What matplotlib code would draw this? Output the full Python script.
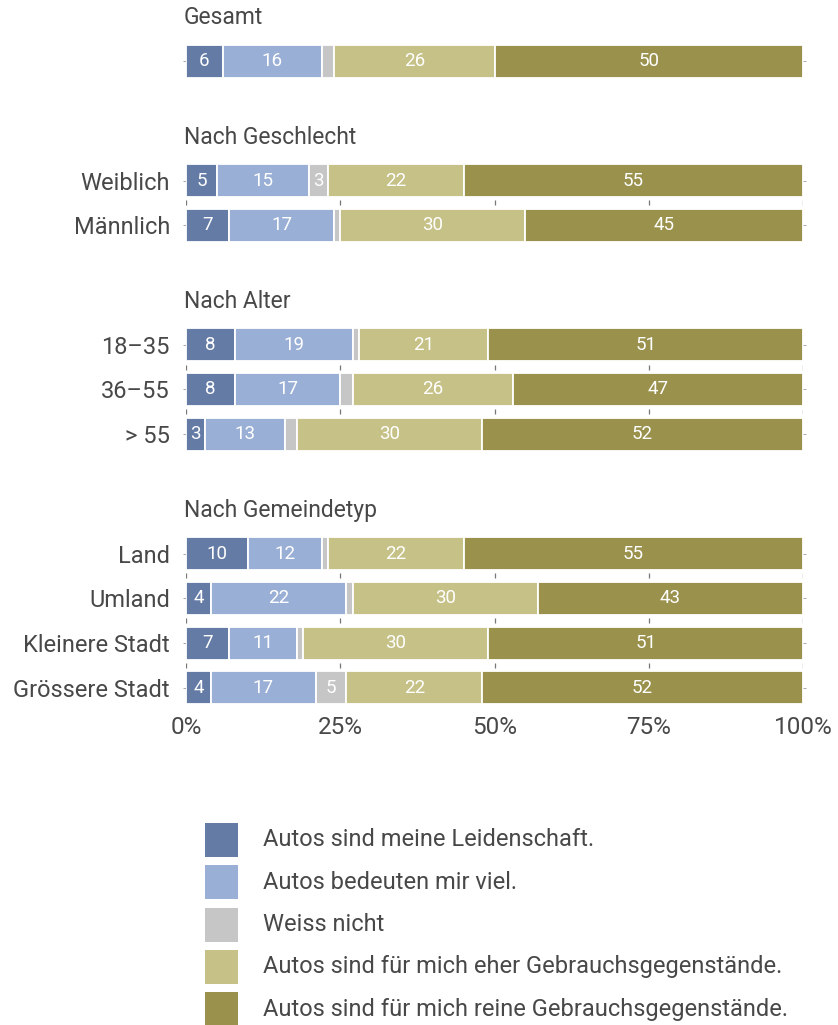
import matplotlib
matplotlib.use("Agg")
import matplotlib.pyplot as plt
from matplotlib.patches import Rectangle

plt.rcParams["font.family"] = ["Roboto", "DejaVu Sans"]

# survey answers in percent, one row per subgroup
groups = ["Gesamt", "Nach Geschlecht", "Nach Alter", "Nach Gemeindetyp"]
rows = [
    [""],
    ["Weiblich", "Männlich"],
    ["18–35", "36–55", "> 55"],
    ["Land", "Umland", "Kleinere Stadt", "Grössere Stadt"],
]
leidenschaft = [6, 5, 7, 8, 8, 3, 10, 4, 7, 4]
bedeuten_viel = [16, 15, 17, 19, 17, 13, 12, 22, 11, 17]
weiss_nicht = [2, 3, 1, 1, 2, 2, 1, 1, 1, 5]
eher_gebrauch = [26, 22, 30, 21, 26, 30, 22, 30, 30, 22]
reine_gebrauch = [50, 55, 45, 51, 47, 52, 55, 43, 51, 52]

series = [leidenschaft, bedeuten_viel, weiss_nicht, eher_gebrauch, reine_gebrauch]
legend_labels = [
    "Autos sind meine Leidenschaft.",
    "Autos bedeuten mir viel.",
    "Weiss nicht",
    "Autos sind für mich eher Gebrauchsgegenstände.",
    "Autos sind für mich reine Gebrauchsgegenstände.",
]
colors = ["#647ba6", "#9aafd6", "#c6c6c6", "#c6c186", "#9a914c"]
x_ticks = [0, 25, 50, 75, 100]
text_col = "#484848"

W, H = 838, 1025
fig = plt.figure(figsize=(W / 100, H / 100), dpi=100)
ax = fig.add_axes([186 / W, 1 - 712 / H, 617 / W, 712 / H])
ax.set_xlim(0, 100)
ax.set_ylim(712, 0)

# vertical layout (pixel units on the y axis)
first_center, pitch, group_gap, title_off = 61, 44.7, 119.5, 43
bar_h = 33

y = first_center
centers, labels = [], []
for g, names in zip(groups, rows):
    ax.text(-0.4, y - title_off, g, ha="left", va="center", fontsize=16.5, color=text_col)
    group_centers = []
    for n in names:
        group_centers.append(y)
        centers.append(y)
        labels.append(n)
        y += pitch
    # small guide ticks between rows of a group
    for a, b in zip(group_centers[:-1], group_centers[1:]):
        mid = (a + b) / 2
        for xt in x_ticks:
            ax.plot([xt, xt], [mid - 2.5, mid + 2.5], color="#777777", lw=0.9,
                    solid_capstyle="butt", zorder=1)
    y = group_centers[-1] + group_gap

left = [0] * len(centers)
for vals, col in zip(series, colors):
    ax.barh(centers, vals, left=left, height=bar_h, color=col,
            edgecolor="white", linewidth=1.3, zorder=2)
    for yc, l, v in zip(centers, left, vals):
        if v >= 3:
            ax.text(l + v / 2, yc, str(v), ha="center", va="center",
                    fontsize=13.5, color="white", zorder=3)
    left = [a + b for a, b in zip(left, vals)]

ax.set_yticks(centers)
ax.set_yticklabels(labels, fontsize=17, color=text_col)
ax.tick_params(axis="y", length=2.5, width=0.6, color="#999999", pad=9,
               right=True)
ax.set_xticks(x_ticks)
ax.set_xticklabels([f"{t}%" for t in x_ticks], fontsize=17.5, color=text_col)
ax.tick_params(axis="x", length=0, pad=3)
for s in ax.spines.values():
    s.set_visible(False)

# legend drawn as squares with text below the chart
lax = fig.add_axes([0, 0, 1, 1])
lax.set_xlim(0, W)
lax.set_ylim(H, 0)
lax.axis("off")
for i, (lab, col) in enumerate(zip(legend_labels, colors)):
    top = 823 + i * 42.3
    lax.add_patch(Rectangle((205, top), 33, 34, facecolor=col, edgecolor="none"))
    lax.text(263, top + 17, lab, ha="left", va="center", fontsize=17, color=text_col)

fig.savefig("out.png", dpi=100)
